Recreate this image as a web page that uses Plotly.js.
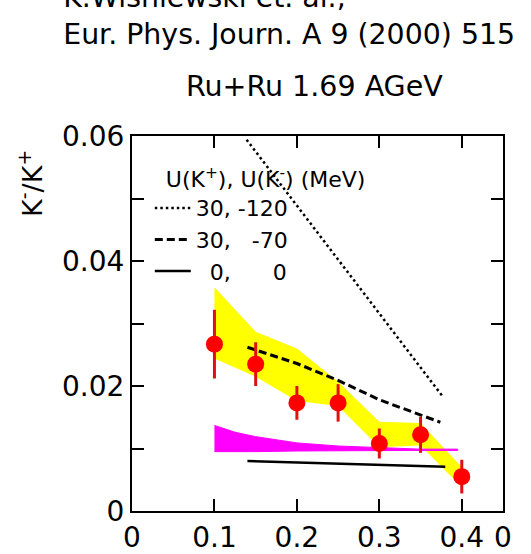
<!DOCTYPE html>
<html><head><meta charset="utf-8">
<script src="https://cdn.plot.ly/plotly-3.0.1.min.js"></script>
<style>html,body{margin:0;padding:0;background:#fff;}#chart{width:531px;height:554px;}</style>
</head><body><div id="chart"></div>
<script>
// measured data points K-/K+ vs x
const pointX = [0.1, 0.15, 0.2, 0.25, 0.3, 0.35, 0.4];
const pointY = [0.0267, 0.0235, 0.0173, 0.0173, 0.0108, 0.0122, 0.0055];
const pointErr = [0.0055, 0.0035, 0.0027, 0.0030, 0.0024, 0.0029, 0.0027];

// yellow systematic band
const bandX = [0.1, 0.15, 0.2, 0.25, 0.3, 0.35, 0.4];
const bandUpper = [0.0358, 0.0287, 0.0260, 0.0207, 0.0143, 0.0141, 0.0070];
const bandLower = [0.0244, 0.0215, 0.0176, 0.0168, 0.0102, 0.0105, 0.0038];

// magenta band
const magX = [0.1, 0.125, 0.15, 0.2, 0.25, 0.3, 0.35, 0.395];
const magUpper = [0.0137, 0.0126, 0.0119, 0.0109, 0.0104, 0.0101, 0.0099, 0.0099];
const magLower = [0.0095, 0.0095, 0.0095, 0.0096, 0.0096, 0.0097, 0.0097, 0.0097];

// model curves U(K+), U(K-)
const dotX = [0.139, 0.377];
const dotY = [0.0594, 0.0183];
const dashX = [0.14, 0.2, 0.25, 0.3, 0.374];
const dashY = [0.0262, 0.0236, 0.0209, 0.0178, 0.0142];
const solidX = [0.14, 0.38];
const solidY = [0.0080, 0.0071];
const modelNames = ["30,\u00a0-120", "30,\u00a0\u00a0\u00a0-70", "\u00a0\u00a00,\u00a0\u00a0\u00a0\u00a0\u00a0\u00a00"];
const legendTitle = "\u00a0\u00a0U(K<sup>+</sup>), U(K<sup>-</sup>) (MeV)";

// tick positions and labels
const xTickVals = [0, 0.1, 0.2, 0.3, 0.4, 0.45];
const xTickText = ["0", "0.1", "0.2", "0.3", "0.4", "0"];
const yTickVals = [0, 0.01, 0.02, 0.03, 0.04, 0.05, 0.06];
const yTickText = ["0", "", "0.02", "", "0.04", "", "0.06"];

const FONT = "DejaVu Sans";

const traces = [
  {x: bandX.concat(bandX.slice().reverse()), y: bandUpper.concat(bandLower.slice().reverse()),
   mode: 'lines', line: {width: 0, color: '#ffff00'}, fill: 'toself', fillcolor: '#ffff00',
   showlegend: false, hoverinfo: 'skip'},
  {x: magX.concat(magX.slice().reverse()), y: magUpper.concat(magLower.slice().reverse()),
   mode: 'lines', line: {width: 1, color: '#ff00ff'}, fill: 'toself', fillcolor: '#ff00ff',
   showlegend: false, hoverinfo: 'skip'},
  {x: dotX, y: dotY, mode: 'lines', name: modelNames[0],
   line: {color: '#000', width: 2.5, dash: '2.5px,3px'}},
  {x: dashX, y: dashY, mode: 'lines', name: modelNames[1],
   line: {color: '#000', width: 3, dash: '8px,4px'}},
  {x: solidX, y: solidY, mode: 'lines', name: modelNames[2],
   line: {color: '#000', width: 2.5}},
  {x: pointX, y: pointY, mode: 'markers', showlegend: false,
   marker: {color: '#ff0000', size: 17},
   error_y: {type: 'data', array: pointErr, visible: true, thickness: 3, width: 0, color: '#e01010'}}
];

const layout = {
  width: 531, height: 554,
  margin: {l: 132, r: 28, t: 136, b: 43, pad: 0},
  paper_bgcolor: '#fff', plot_bgcolor: '#fff',
  font: {family: FONT, color: '#000'},
  title: {text: 'K.Wisniewski et. al.,<br>Eur. Phys. Journ. A 9 (2000) 515',
          xref: 'container', yref: 'container', x: 0.119, xanchor: 'left',
          y: 0.988, yanchor: 'top', font: {family: FONT, size: 28.4, color: '#000'}},
  showlegend: true,
  legend: {x: 0.048, y: 0.94, xanchor: 'left', yanchor: 'top', bgcolor: 'rgba(0,0,0,0)',
           title: {text: legendTitle, side: 'top', font: {family: FONT, size: 22, color: '#000'}},
           font: {family: FONT, size: 22, color: '#000'}, itemwidth: 36, traceorder: 'normal'},
  xaxis: {range: [0, 0.45], tickmode: 'array', tickvals: xTickVals, ticktext: xTickText,
          ticks: 'inside', ticklen: 12, tickwidth: 2, tickcolor: '#000',
          showline: true, linewidth: 2, linecolor: '#000', mirror: 'ticks',
          showgrid: false, zeroline: false, tickfont: {family: FONT, size: 28, color: '#000'}},
  yaxis: {range: [0, 0.06], tickmode: 'array', tickvals: yTickVals, ticktext: yTickText,
          ticks: 'inside', ticklen: 12, tickwidth: 2, tickcolor: '#000',
          showline: true, linewidth: 2, linecolor: '#000', mirror: 'ticks',
          showgrid: false, zeroline: false, tickfont: {family: FONT, size: 28, color: '#000'}},
  annotations: [
    {text: 'Ru+Ru 1.69 AGeV', xref: 'paper', yref: 'paper', x: 0.491, y: 1.131,
     xanchor: 'center', yanchor: 'middle', showarrow: false, font: {family: FONT, size: 28.5}},
    {text: 'K<sup>-</sup>/K<sup>+</sup>', xref: 'paper', yref: 'paper', x: -0.274, y: 0.873,
     xanchor: 'center', yanchor: 'middle', textangle: -90, showarrow: false, font: {family: FONT, size: 27}}
  ]
};

Plotly.newPlot('chart', traces, layout, {staticPlot: true})
  .then(() => new Promise(r => setTimeout(r, 250)))
  .then(() => Plotly.relayout('chart', {
      'xaxis.ticks': 'inside', 'xaxis.mirror': 'ticks', 'xaxis.showline': true,
      'yaxis.ticks': 'inside', 'yaxis.mirror': 'ticks', 'yaxis.showline': true}))
  .then(() => { document.body.setAttribute('data-drawn', '1'); });
</script>
</body></html>
